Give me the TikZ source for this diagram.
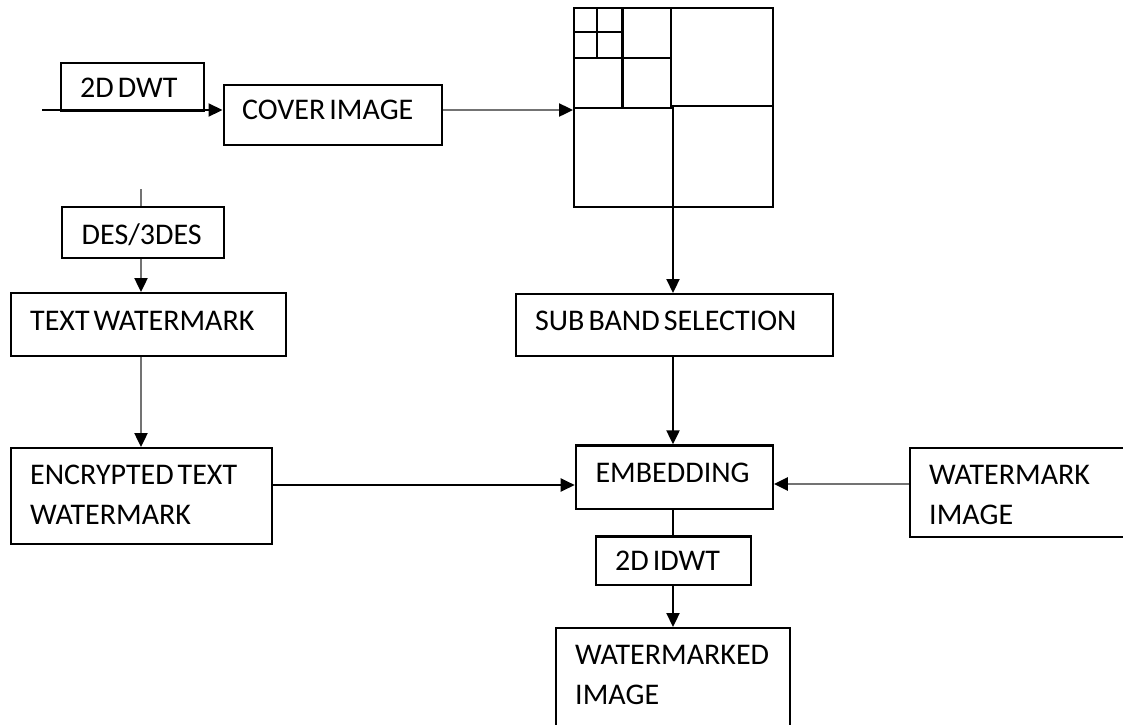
\documentclass[tikz,border=0pt]{standalone}
\usepackage{fontspec}
\setmainfont{Carlito}
\usetikzlibrary{arrows.meta}
\newcommand{\mylblfont}{\fontsize{30}{40}\selectfont\setlength{\spaceskip}{4pt plus 1pt}}
\begin{document}
\begin{tikzpicture}[x=1pt,y=-1pt,
  box/.style={draw, line width=2.2pt, fill=white, rectangle, inner sep=0pt, anchor=north west},
  lbl/.style={anchor=base west, inner sep=0pt, align=left, font=\mylblfont},
  conn/.style={line width=2.2pt, draw=black},
  gconn/.style={line width=2.4pt, draw=black!55},
  tip/.style={-{Triangle[length=14pt,width=13pt,color=black,fill=black]}},
  gline/.style={line width=2.2pt}
]
\clip (0,0) rectangle (1123,724);
\fill[white] (0,0) rectangle (1123,724);
% boxes
\node[box, minimum width=143pt, minimum height=48pt] (dwt) at (60,62) {};
\node[box, minimum width=218.5pt, minimum height=60pt] (cover) at (222.5,84) {};
\node[box, minimum width=199pt, minimum height=199pt] (grid) at (573,7) {};
\node[box, minimum width=162pt, minimum height=51pt] (des) at (61,206) {};
\node[box, minimum width=275pt, minimum height=63pt] (twm) at (9.6,292) {};
\node[box, minimum width=261.4pt, minimum height=96pt] (enc) at (9.6,447) {};
\node[box, minimum width=317pt, minimum height=62pt] (sub) at (514.5,293) {};
\node[box, minimum width=197pt, minimum height=63.4pt] (emb) at (574.7,444.3) {};
\node[box, minimum width=260pt, minimum height=89pt] (wmi) at (909,447) {};
\node[box, minimum width=155pt, minimum height=48.7pt] (idwt) at (594.6,535.3) {};
\node[box, minimum width=234pt, minimum height=120pt] (wmd) at (555,627) {};
% sub-band grid
\draw[gline] (671,7) -- (671,107);
\draw[gline] (673,107) -- (673,206);
\draw[gline] (573,108) -- (672,108);
\draw[gline] (672,106) -- (772,106);
\draw[gline] (622.5,7) -- (622.5,108);
\draw[gline] (573,58) -- (671,58);
\draw[gline] (597,7) -- (597,58);
\draw[gline] (573,32) -- (622.5,32);
% labels
\node[lbl] (tdwt) at (80,97) {2D DWT};
\node[lbl] (tcover) at (242,119) {COVER IMAGE};
\node[lbl] (tdes) at (81.5,244) {DES/3DES};
\node[lbl] (ttwm) at (30,330) {TEXT WATERMARK};
\node[lbl] (tenc) at (30,524) {ENCRYPTED TEXT\\WATERMARK};
\node[lbl] (tsub) at (535,330) {SUB BAND SELECTION};
\node[lbl] (temb) at (595.4,482) {EMBEDDING};
\node[lbl] (twmi) at (929,524) {WATERMARK\\IMAGE};
\node[lbl] (tidwt) at (615,570) {2D IDWT};
\node[lbl] (twmd) at (575,704) {WATERMARKED\\IMAGE};
% helper coordinates
\coordinate (in1) at (42,110);
\coordinate (in2) at (141,189);
\coordinate (ey) at (0,485);
\coordinate (ey2) at (0,484);
\coordinate (vx) at (673,0);
% connectors
\draw[conn, tip] (in1) -- (in1 -| cover.west);
\draw[gconn, tip] (cover.east |- in1) -- (grid.west |- in1);
\draw[gconn] (in2) -- (in2 |- des.north);
\draw[gconn, tip] (in2 |- des.south) -- (in2 |- twm.north);
\draw[gconn, tip] (in2 |- twm.south) -- (in2 |- enc.north);
\draw[conn, tip] (grid.south -| vx) -- (sub.north -| vx);
\draw[conn, tip] (sub.south -| vx) -- (emb.north -| vx);
\draw[conn, tip] (enc.east |- ey) -- (emb.west |- ey);
\draw[gconn, tip] (wmi.west |- ey2) -- (emb.east |- ey2);
\draw[conn] (emb.south -| vx) -- (idwt.north -| vx);
\draw[conn, tip] (idwt.south -| vx) -- (wmd.north -| vx);
\end{tikzpicture}
\end{document}
